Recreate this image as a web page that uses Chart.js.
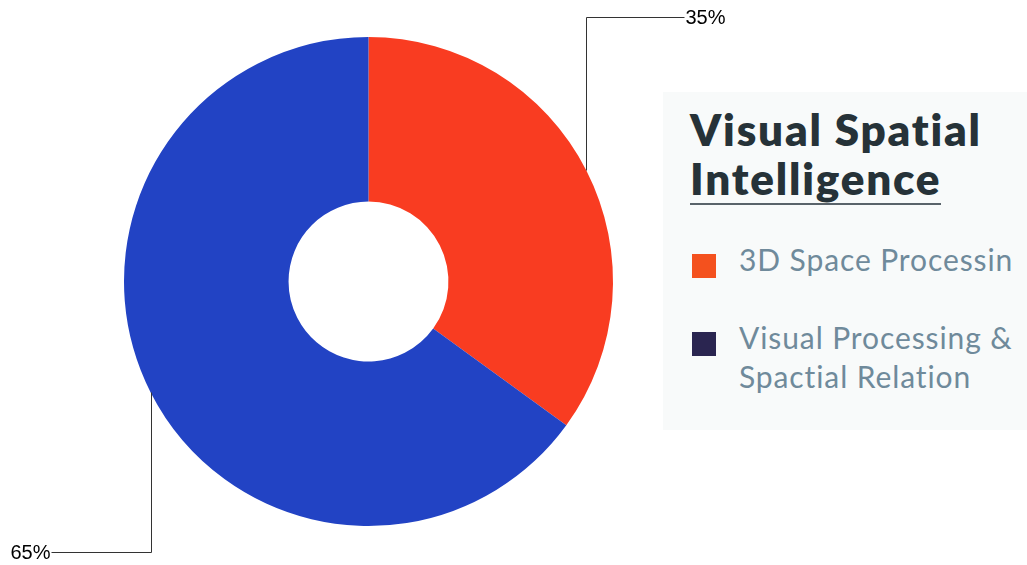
<!DOCTYPE html>
<html lang="en">

<head>
    <meta charset="UTF-8">
    <title>Visual Spatial Intelligence</title>
    <style>
        body {
            margin: 0;
            padding: 0;
            background-color: #fff;
            width: 1027px;
            height: 565px;
            overflow: hidden;
            position: relative;
        }

        .chart-box {
            position: absolute;
            left: 0;
            top: 0;
            width: 1027px;
            height: 565px;
        }

        .legend-card {
            position: absolute;
            left: 663px;
            top: 92px;
            width: 364px;
            height: 338px;
            background-color: #f8fafa;
            font-family: Lato, sans-serif;
        }

        .title {
            position: absolute;
            left: 27px;
            top: 13px;
            font-size: 44px;
            font-weight: 800;
            line-height: 49px;
            letter-spacing: 1.8px;
            color: #263238;
            white-space: nowrap;
        }

        .title span {
            display: inline-block;
            border-bottom: 2px solid #59636a;
        }

        .item {
            position: absolute;
            left: 29px;
            color: #6f8a9b;
            font-size: 30px;
            line-height: 39px;
            letter-spacing: 0.9px;
        }

        .item i {
            position: absolute;
            left: 0;
            top: 14px;
            width: 24px;
            height: 24px;
        }

        .item div {
            margin-left: 47px;
            white-space: nowrap;
        }
    </style>
</head>

<body>
    <div class="chart-box">
        <canvas id="spatialChart"></canvas>
    </div>

    <div class="legend-card">
        <div class="title">
            <div>Visual Spatial</div>
            <span>Intelligence</span>
        </div>
        <div class="item" style="top: 148px;"><i style="background:#f4511e"></i>
            <div>3D Space Processin</div>
        </div>
        <div class="item" style="top: 226px;"><i style="background:#2a2550"></i>
            <div>Visual Processing &amp;<br>Spactial Relation</div>
        </div>
    </div>

    <script src="https://cdn.jsdelivr.net/npm/chart.js"></script>
    <script>
        const categories = ['3D Space Processin', 'Visual Processing & Spactial Relation'];
        const shares = [35, 65];
        const sliceColors = ['#f93c21', '#2243c4'];

        // leader line from the middle of each slice's outer edge: straight
        // up/down, then sideways to the percentage label
        const leaderLines = {
            id: 'leaderLines',
            afterDatasetsDraw(chart) {
                const ctx = chart.ctx;
                const area = chart.chartArea;
                const total = shares.reduce((a, b) => a + b, 0);
                chart.getDatasetMeta(0).data.forEach((arc, i) => {
                    const mid = (arc.startAngle + arc.endAngle) / 2;
                    const x = Math.round(arc.x + Math.cos(mid) * arc.outerRadius) + 0.5;
                    const y = arc.y + Math.sin(mid) * arc.outerRadius;
                    const up = y < arc.y;
                    const right = x > arc.x;
                    const yEnd = Math.round(up ? area.top - 20 : area.bottom + 26) + 0.5;
                    const xEnd = right ? x + 98 : x - 100;

                    ctx.save();
                    ctx.strokeStyle = '#333';
                    ctx.lineWidth = 1;
                    ctx.beginPath();
                    ctx.moveTo(x, y);
                    ctx.lineTo(x, yEnd);
                    ctx.lineTo(xEnd, yEnd);
                    ctx.stroke();

                    ctx.fillStyle = '#000';
                    ctx.font = '20px "Liberation Sans", Arial, sans-serif';
                    ctx.textBaseline = 'middle';
                    ctx.textAlign = right ? 'left' : 'right';
                    const pct = Math.round(shares[i] / total * 100) + '%';
                    ctx.fillText(pct, right ? xEnd + 1 : xEnd - 1, yEnd + 1);
                    ctx.restore();
                });
            }
        };

        new Chart(document.getElementById('spatialChart'), {
            type: 'doughnut',
            data: {
                labels: categories,
                datasets: [{
                    data: shares,
                    backgroundColor: sliceColors,
                    borderWidth: 0
                }]
            },
            options: {
                responsive: true,
                maintainAspectRatio: false,
                animation: false,
                cutout: '32.7%',
                layout: {
                    padding: { left: 124, right: 414, top: 37, bottom: 39 }
                },
                plugins: {
                    legend: { display: false },
                    tooltip: { enabled: false }
                }
            },
            plugins: [leaderLines]
        });
    </script>
</body>

</html>
